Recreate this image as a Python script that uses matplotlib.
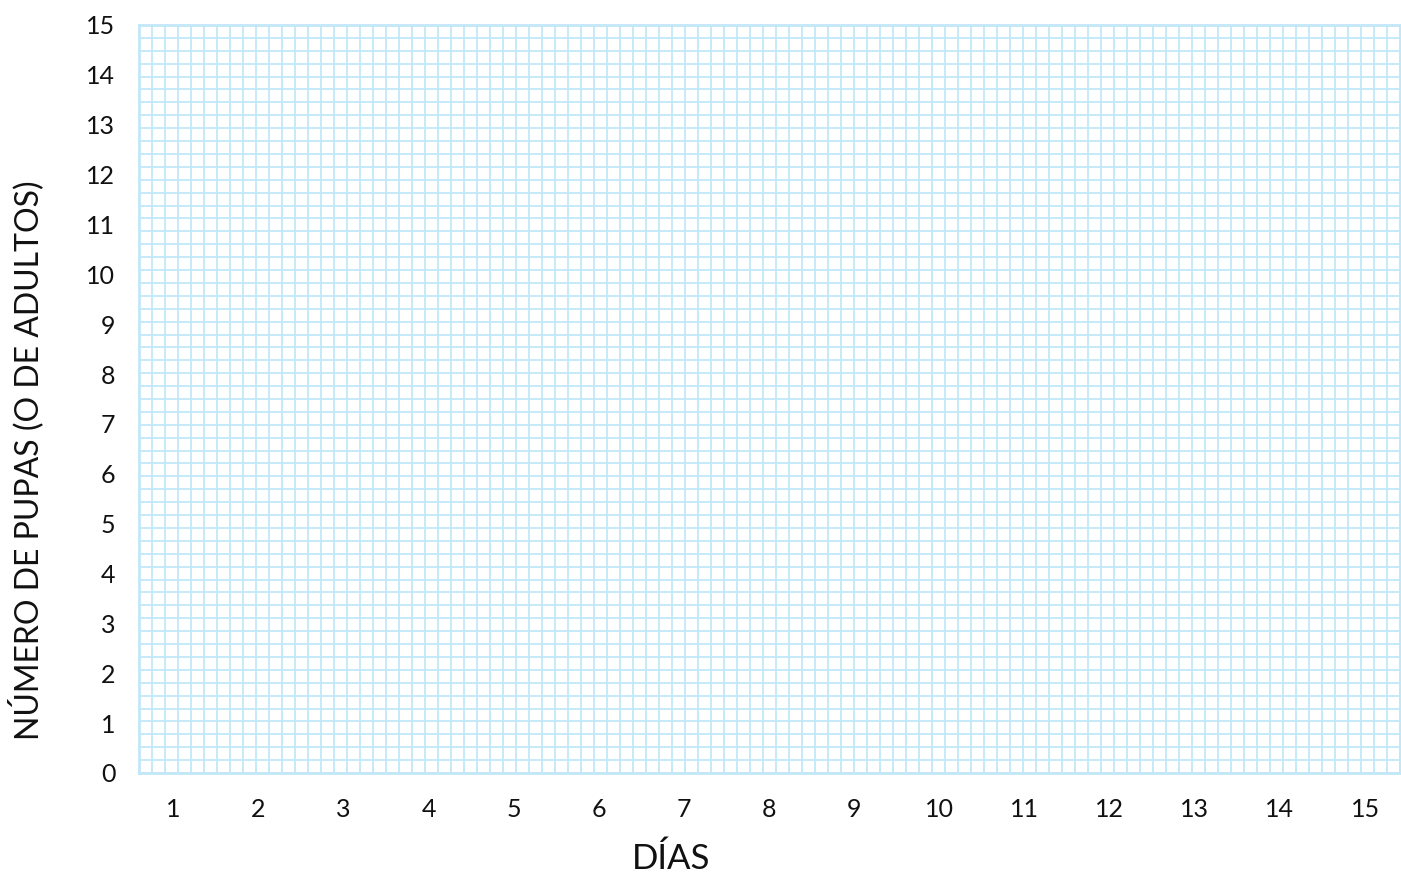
import numpy as np
import matplotlib.pyplot as plt

dias = list(range(1, 16))
pupas = list(range(0, 16))
x_label = 'DÍAS'
y_label = 'NÚMERO DE PUPAS (O DE ADULTOS)'

grid_color = '#c2e8f8'

plt.rcParams['font.family'] = ['Lato', 'DejaVu Sans']

fig = plt.figure(figsize=(14.01, 8.75), dpi=100)
rect = [139 / 1401, 1 - 773 / 875, 1261 / 1401, 748 / 875]

# graph-paper background (independent of the data scale)
bg = fig.add_axes(rect, zorder=0)
ncols, nrows = 97, 58
bg.set_xlim(0, ncols)
bg.set_ylim(0, nrows)
bg.set_xticks(np.arange(ncols + 1))
bg.set_yticks(np.arange(nrows + 1))
bg.grid(True, color=grid_color, linewidth=1.3)
bg.tick_params(length=0, labelbottom=False, labelleft=False)
for s in bg.spines.values():
    s.set_color(grid_color)
    s.set_linewidth(2)

# data axes with labels
ax = fig.add_axes(rect, zorder=1)
ax.patch.set_alpha(0)
ax.set_xlim(0.60, 15.41)
ax.set_ylim(0, 15)
ax.set_xticks(dias)
ax.set_yticks(pupas)
ax.tick_params(length=0, labelsize=18, colors='#111111')
ax.tick_params(axis='y', pad=17)
ax.tick_params(axis='x', pad=18)
for s in ax.spines.values():
    s.set_visible(False)
ax.set_xlabel(x_label, fontsize=25, color='#111111')
ax.set_ylabel(y_label, fontsize=23, color='#111111')
ax.xaxis.set_label_coords(0.422, -0.093)
ax.yaxis.set_label_coords(-0.075, 0.418)

fig.savefig('out.png', dpi=100)
